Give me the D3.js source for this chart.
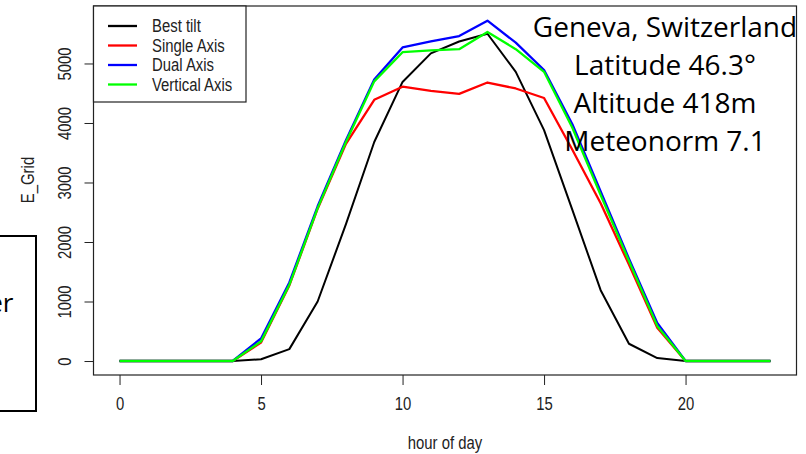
<!DOCTYPE html>
<html>
<head>
<meta charset="utf-8">
<script src="https://cdn.jsdelivr.net/npm/d3@7"></script>
<style>
  body { margin: 0; background: #fff; }
  svg { display: block; }
</style>
</head>
<body>
<svg id="chart"></svg>
<script>
// hours 0..23
var hours = [0,1,2,3,4,5,6,7,8,9,10,11,12,13,14,15,16,17,18,19,20,21,22,23];

var bestTilt   = [0,0,0,0,0,30,200,1000,2300,3680,4690,5170,5370,5500,4860,3880,2540,1190,290,50,0,0,0,0];
var singleAxis = [0,0,0,0,0,310,1270,2560,3650,4390,4610,4540,4490,4680,4580,4420,3550,2650,1620,560,0,0,0,0];
var dualAxis   = [0,0,0,0,0,380,1320,2600,3710,4730,5270,5370,5460,5720,5350,4890,3980,2850,1720,640,0,0,0,0];
var vertAxis   = [0,0,0,0,0,330,1280,2570,3680,4700,5190,5220,5240,5530,5240,4860,3920,2790,1680,590,0,0,0,0];

var seriesNames  = ["Best tilt", "Single Axis", "Dual Axis", "Vertical Axis"];
var seriesColors = ["#000000", "#ff0000", "#0000ff", "#00ff00"];

var xTicks = [0, 5, 10, 15, 20];
var yTicks = [0, 1000, 2000, 3000, 4000, 5000];

var siteLines = ["Geneva, Switzerland", "Latitude 46.3\u00b0", "Altitude 418m", "Meteonorm 7.1"];

const width = 806, height = 454;
const rFont = "'Liberation Sans', Arial, sans-serif";

const svg = d3.select("#chart").attr("width", width).attr("height", height);

/* scales (R style 4% padding) */
const x = d3.scaleLinear().domain([-0.92, 23.92]).range([93.5, 796.5]);
const y = d3.scaleLinear().domain([-235, 5966]).range([375, 6]);

/* plot box */
svg.append("rect")
  .attr("x", x.range()[0]).attr("y", y.range()[1])
  .attr("width", x.range()[1] - x.range()[0])
  .attr("height", y.range()[0] - y.range()[1])
  .attr("fill", "none").attr("stroke", "#222").attr("stroke-width", 1.2);

/* x axis */
const xAxis = svg.append("g")
  .attr("transform", `translate(0,${y.range()[0]})`)
  .call(d3.axisBottom(x).tickValues(xTicks).tickSize(10).tickPadding(13));
xAxis.select(".domain").remove();
xAxis.selectAll("line").attr("stroke", "#222");
xAxis.selectAll("text").attr("class", "rtext");

/* y axis */
const yAxis = svg.append("g")
  .attr("transform", `translate(${x.range()[0]},0)`)
  .call(d3.axisLeft(y).tickValues(yTicks).tickSize(9).tickFormat(d3.format("d")));
yAxis.select(".domain").remove();
yAxis.selectAll("line").attr("stroke", "#222");
yAxis.selectAll("text")
  .attr("class", "rtext")
  .attr("text-anchor", "middle").attr("dy", null).attr("x", null)
  .attr("transform", "translate(-23,0) rotate(-90)")
  .attr("y", 0);

/* axis titles */
svg.append("text")
  .attr("class", "rtext")
  .attr("x", 445).attr("y", 449)
  .attr("text-anchor", "middle")
  .text("hour of day");
svg.append("text")
  .attr("class", "rtext")
  .attr("transform", "translate(34,180) rotate(-90)")
  .attr("text-anchor", "middle")
  .text("E_Grid");

/* lines */
const allSeries = [bestTilt, singleAxis, dualAxis, vertAxis];
const line = d3.line().x((d, i) => x(hours[i])).y(d => y(d));
svg.selectAll("path.series")
  .data(allSeries)
  .enter()
  .append("path")
  .attr("class", "series")
  .attr("d", d => line(d))
  .attr("fill", "none")
  .attr("stroke", (d, i) => seriesColors[i])
  .attr("stroke-width", (d, i) => i === 0 ? 2 : 2.3)
  .attr("stroke-linejoin", "round");

/* legend */
const legend = svg.append("g");
legend.append("rect")
  .attr("x", 93.5).attr("y", 6).attr("width", 152.5).attr("height", 96)
  .attr("fill", "#fff").attr("stroke", "#222").attr("stroke-width", 1.2);
const rows = legend.selectAll("g.row")
  .data(seriesNames)
  .enter()
  .append("g")
  .attr("class", "row")
  .attr("transform", (d, i) => `translate(0,${26 + i * 19.5})`);
rows.append("line")
  .attr("x1", 108).attr("x2", 137)
  .attr("stroke", (d, i) => seriesColors[i]).attr("stroke-width", 2.3);
rows.append("text")
  .attr("class", "rtext")
  .attr("x", 152).attr("dy", "0.36em")
  .text(d => d);

/* R's text is narrow: squeeze the glyphs horizontally */
svg.selectAll(".rtext")
  .attr("font-family", rFont).attr("font-size", 17.5).attr("fill", "#222")
  .each(function () {
    const len = this.getComputedTextLength();
    d3.select(this).attr("textLength", len * 0.85).attr("lengthAdjust", "spacingAndGlyphs");
  });

/* site annotation */
svg.append("g").selectAll("text")
  .data(siteLines)
  .enter()
  .append("text")
  .attr("x", 665)
  .attr("y", (d, i) => 37 + i * 38)
  .attr("text-anchor", "middle")
  .attr("font-family", "'Open Sans', 'Noto Sans', sans-serif")
  .attr("font-size", 28)
  .attr("fill", "#000")
  .text(d => d);

/* partial box on the left edge */
svg.append("rect")
  .attr("x", -20).attr("y", 236).attr("width", 56).attr("height", 175)
  .attr("fill", "none").attr("stroke", "#000").attr("stroke-width", 2);
svg.append("text")
  .attr("x", 13.5).attr("y", 312)
  .attr("text-anchor", "end")
  .attr("font-family", "'Open Sans', 'Noto Sans', sans-serif")
  .attr("font-size", 26)
  .attr("fill", "#000")
  .text("er");
</script>
</body>
</html>
